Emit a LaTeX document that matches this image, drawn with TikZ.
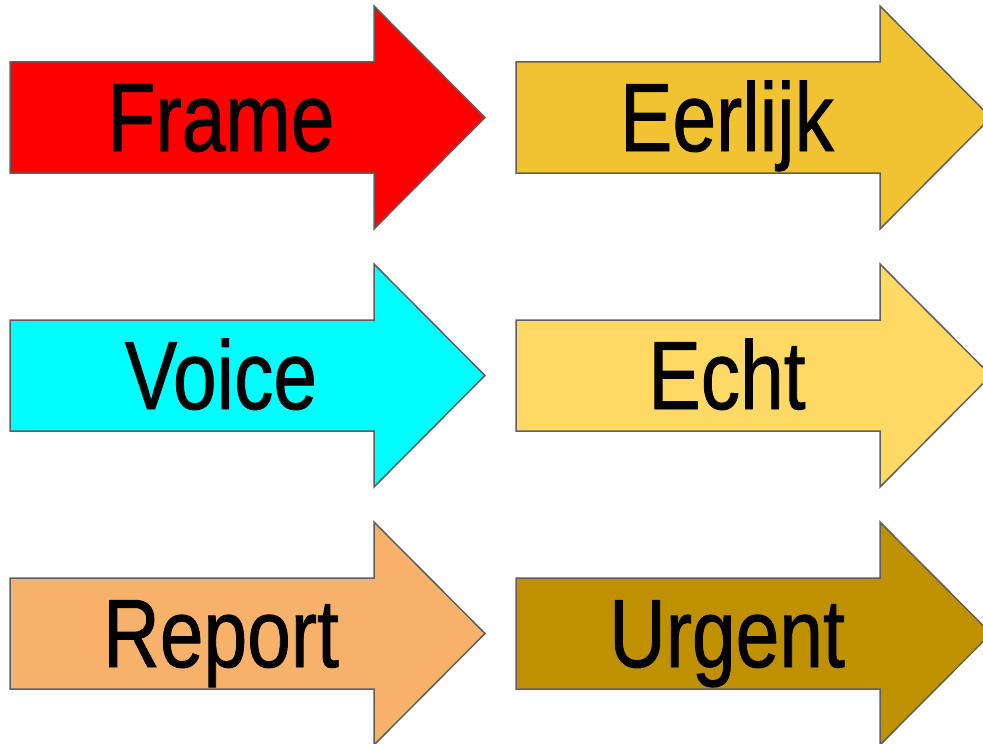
\documentclass[tikz,border=0pt]{standalone}
\usepackage{fontspec}
\setmainfont{Liberation Sans}
\newfontfamily\labelfont[FakeBold=1]{Liberation Sans}
\definecolor{cRed}{HTML}{FF0000}
\definecolor{cDarkYellow}{HTML}{F1C232}
\definecolor{cCyan}{HTML}{00FFFF}
\definecolor{cLightYellow}{HTML}{FFD966}
\definecolor{cOrange}{HTML}{F6B26B}
\definecolor{cOchre}{HTML}{BF9000}
\definecolor{cEdge}{HTML}{5F5F5F}
\tikzset{
  arrowshape/.style={draw=cEdge, line width=1.5bp, line join=miter},
  arrowlabel/.style={anchor=base, inner sep=0pt, text=black, font=\labelfont\fontsize{97bp}{97bp}\selectfont},
}
\newcommand{\bigarrow}[4]{% left x, center y, colour, name
  \filldraw[arrowshape, fill=#3]
    (#1,#2-55.5) -- (#1+364,#2-55.5) -- (#1+364,#2-111.5) -- (#1+475,#2)
    -- (#1+364,#2+111.5) -- (#1+364,#2+55.5) -- (#1,#2+55.5) -- cycle;
  \coordinate (#4) at (#1+211,#2+33.5);
}
\begin{document}
\begin{tikzpicture}[x=1bp,y=-1bp]
\useasboundingbox (0,0) rectangle (983,744);
\clip (0,0) rectangle (983,744);
\bigarrow{10}{117.5}{cRed}{pFrame}
\bigarrow{516}{117.5}{cDarkYellow}{pEerlijk}
\bigarrow{10}{375.5}{cCyan}{pVoice}
\bigarrow{516}{375.5}{cLightYellow}{pEcht}
\bigarrow{10}{633.5}{cOrange}{pReport}
\bigarrow{516}{633.5}{cOchre}{pUrgent}
\node[arrowlabel] (tFrame) at (pFrame) {\scalebox{0.81}[1]{Frame}};
\node[arrowlabel] (tEerlijk) at (pEerlijk) {\scalebox{0.81}[1]{Eerlijk}};
\node[arrowlabel] (tVoice) at (pVoice) {\scalebox{0.81}[1]{Voice}};
\node[arrowlabel] (tEcht) at (pEcht) {\scalebox{0.81}[1]{Echt}};
\node[arrowlabel] (tReport) at (pReport) {\scalebox{0.81}[1]{Report}};
\node[arrowlabel] (tUrgent) at (pUrgent) {\scalebox{0.81}[1]{Urgent}};
\end{tikzpicture}
\end{document}
